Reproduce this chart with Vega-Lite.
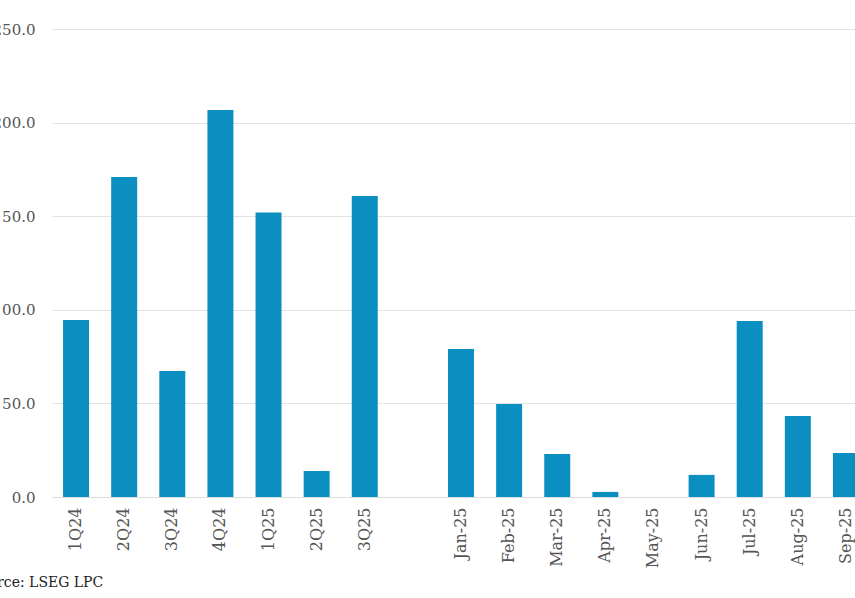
{
  "$schema": "https://vega.github.io/schema/vega-lite/v6.json",
  "autosize": {"type": "none"},
  "padding": {"left": 52, "top": 29, "right": 0, "bottom": 101},
  "width": 818,
  "height": 468,
  "background": "white",
  "config": {"view": {"stroke": null}},
  "title": {
    "text": "Source: LSEG LPC",
    "orient": "bottom",
    "anchor": "start",
    "dx": -22,
    "offset": 8,
    "font": "DejaVu Serif",
    "fontSize": 14,
    "fontWeight": "normal",
    "color": "#222"
  },
  "data": {
    "values": [
      {"period": "1Q24", "value": 94.6},
      {"period": "2Q24", "value": 171},
      {"period": "3Q24", "value": 67.3},
      {"period": "4Q24", "value": 206.7},
      {"period": "1Q25", "value": 152},
      {"period": "2Q25", "value": 13.9},
      {"period": "3Q25", "value": 160.8},
      {"period": "gap", "value": null},
      {"period": "Jan-25", "value": 79},
      {"period": "Feb-25", "value": 49.7},
      {"period": "Mar-25", "value": 23},
      {"period": "Apr-25", "value": 2.7},
      {"period": "May-25", "value": 0},
      {"period": "Jun-25", "value": 11.8},
      {"period": "Jul-25", "value": 94},
      {"period": "Aug-25", "value": 43.3},
      {"period": "Sep-25", "value": 23.5}
    ]
  },
  "mark": {"type": "bar", "color": "#0a8fc0"},
  "encoding": {
    "x": {
      "field": "period",
      "type": "nominal",
      "sort": null,
      "scale": {
        "domain": ["1Q24","2Q24","3Q24","4Q24","1Q25","2Q25","3Q25","gap","Jan-25","Feb-25","Mar-25","Apr-25","May-25","Jun-25","Jul-25","Aug-25","Sep-25"],
        "paddingInner": 0.46,
        "paddingOuter": 0.23
      },
      "axis": {
        "title": null,
        "labelAngle": -90,
        "labelExpr": "datum.value == 'gap' ? '' : datum.value",
        "labelFont": "DejaVu Serif",
        "labelFontSize": 16,
        "labelColor": "#555",
        "labelPadding": 10,
        "ticks": false,
        "domainColor": "#dddddd",
        "grid": false
      }
    },
    "y": {
      "field": "value",
      "type": "quantitative",
      "scale": {"domain": [0, 250], "nice": false},
      "axis": {
        "title": null,
        "values": [0, 50, 100, 150, 200, 250],
        "format": ".1f",
        "labelFont": "DejaVu Serif",
        "labelFontSize": 15,
        "labelColor": "#555",
        "labelPadding": 17,
        "ticks": false,
        "domain": false,
        "gridColor": "#e3e3e3"
      }
    }
  }
}
